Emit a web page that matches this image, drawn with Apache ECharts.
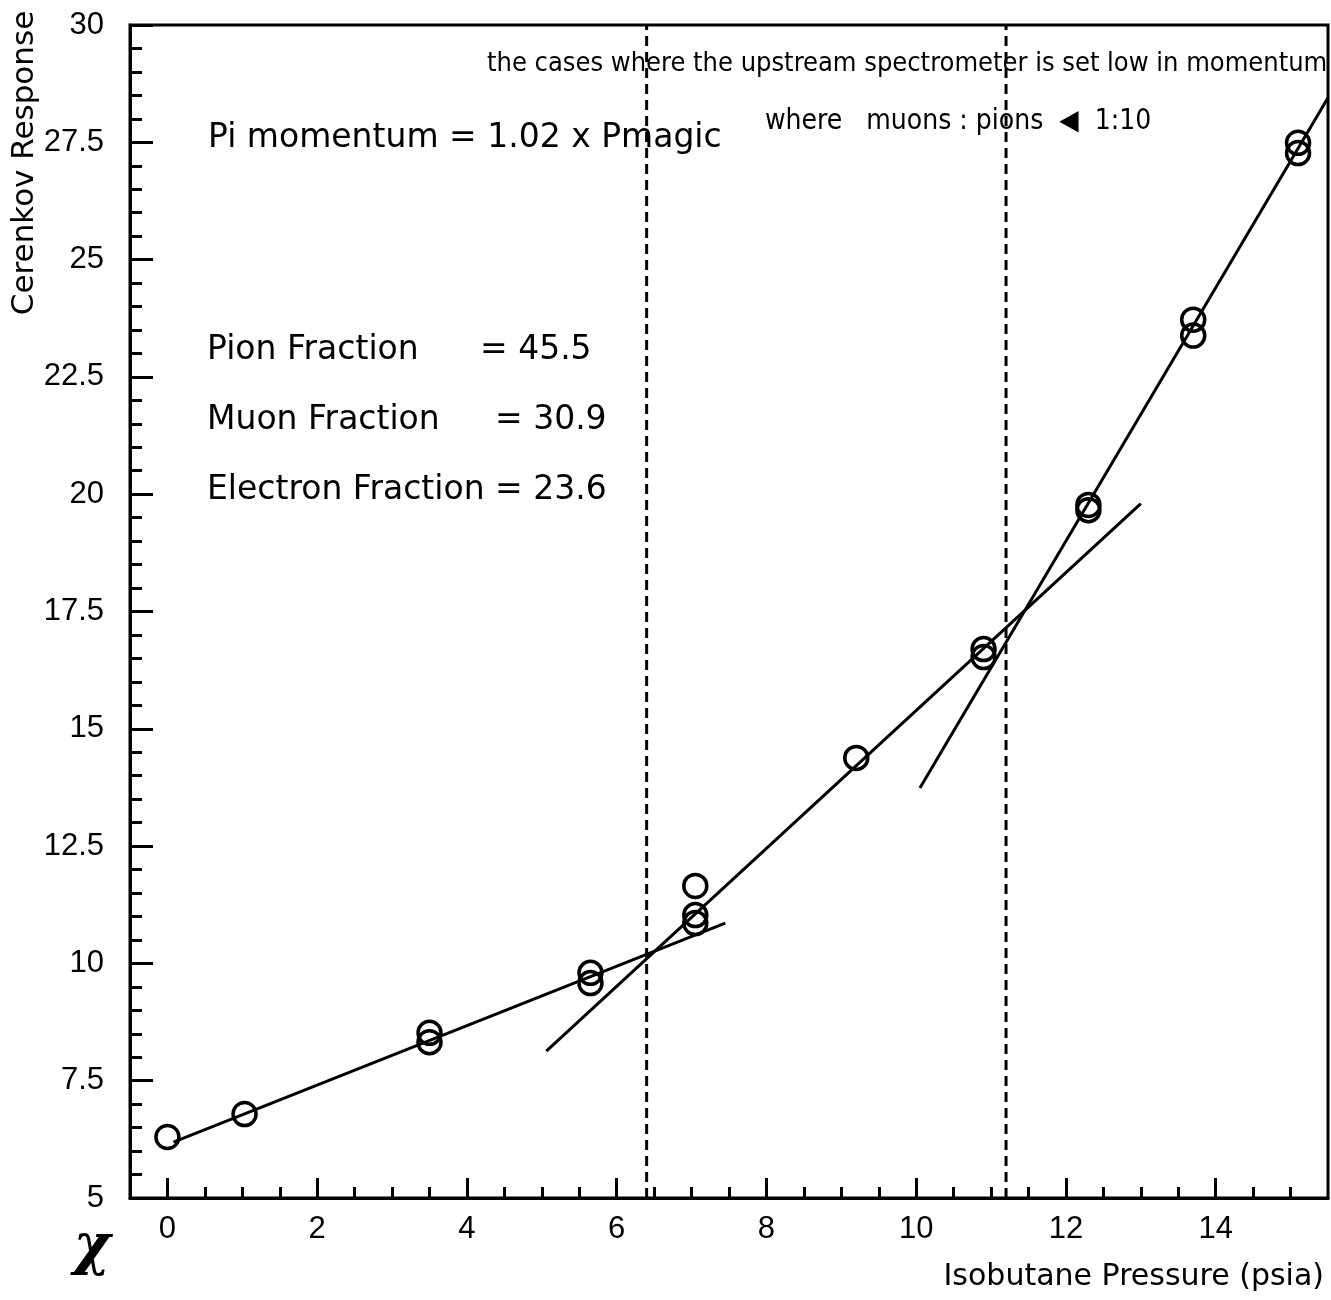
<!DOCTYPE html>
<html lang="en">
<head>
    <meta charset="UTF-8">
    <title>Cerenkov Response vs Isobutane Pressure</title>
    <script src="https://cdn.jsdelivr.net/npm/echarts@6/dist/echarts.min.js"></script>
</head>
<body style="margin:0;background:#fff">
<div id="main" style="width:1331px;height:1300px"></div>
<script>
    // measured points (psia, response)
    var pressure = [0, 1.03, 3.5, 3.5, 5.65, 5.65, 7.05, 7.05, 7.05, 9.2, 10.9, 10.9, 12.3, 12.3, 13.7, 13.7, 15.1, 15.1];
    var response = [6.3, 6.79, 8.52, 8.32, 9.8, 9.58, 11.65, 11.03, 10.86, 14.38, 16.7, 16.53, 19.77, 19.66, 23.72, 23.38, 27.49, 27.27];

    // straight line fits, endpoints
    var fitLowX = [0.08, 7.45];
    var fitLowY = [6.19, 10.86];
    var fitMidX = [5.06, 13.0];
    var fitMidY = [8.13, 19.8];
    var fitHighX = [10.05, 15.5];
    var fitHighY = [13.74, 28.45];

    // dashed cuts
    var cutX = [6.4, 11.2];
    var cutY = [5, 30];

    // ticks
    var xMajor = [0, 2, 4, 6, 8, 10, 12, 14];
    var xMinor = [0.5, 1, 1.5, 2.5, 3, 3.5, 4.5, 5, 5.5, 6.5, 7, 7.5, 8.5, 9, 9.5, 10.5, 11, 11.5, 12.5, 13, 13.5, 14.5, 15];

    var textFont = 'DejaVu Sans';
    var handFont = '"DejaVu Sans Condensed", sans-serif';

    function pairs(xs, ys) {
        var out = [];
        for (var i = 0; i < xs.length; i++) {
            out.push([xs[i], ys[i]]);
        }
        return out;
    }

    function fitLine(xs, ys) {
        return {
            type: 'line',
            data: pairs(xs, ys),
            showSymbol: false,
            lineStyle: {color: '#000', width: 3},
            z: 2
        };
    }

    function cutLine(x) {
        return {
            type: 'line',
            data: [[x, cutY[0]], [x, cutY[1]]],
            showSymbol: false,
            lineStyle: {color: '#000', width: 3, type: [10, 6]},
            z: 1
        };
    }

    function txt(x, y, s, size, family) {
        return {
            type: 'text',
            x: x,
            y: y,
            style: {
                text: s,
                font: size + 'px ' + family,
                fill: '#000',
                verticalAlign: 'middle'
            }
        };
    }

    var myChart = echarts.init(document.getElementById('main'));

    var option = {
        animation: false,
        backgroundColor: '#fff',
        grid: {
            left: 130, right: 3, top: 25, bottom: 102,
            show: true, borderColor: '#000', borderWidth: 3
        },
        xAxis: [
            {
                type: 'value', min: -0.5, max: 15.5,
                axisLine: {show: true, onZero: false, lineStyle: {color: '#000', width: 3}},
                axisTick: {show: true, inside: true, length: 20, customValues: xMajor,
                    lineStyle: {color: '#000', width: 3}},
                axisLabel: {show: true, customValues: xMajor, margin: 16, color: '#000',
                    fontSize: 31, fontFamily: 'Liberation Sans'},
                splitLine: {show: false},
                name: 'Isobutane Pressure (psia)',
                nameLocation: 'end',
                nameGap: 0,
                nameTextStyle: {color: '#000', fontSize: 30, fontFamily: textFont,
                    align: 'right', verticalAlign: 'top', padding: [64, 4, 0, 0]}
            },
            {
                type: 'value', min: -0.5, max: 15.5, position: 'bottom',
                axisLine: {show: false},
                axisTick: {show: true, inside: true, length: 11, customValues: xMinor,
                    lineStyle: {color: '#000', width: 3}},
                axisLabel: {show: false},
                splitLine: {show: false}
            }
        ],
        yAxis: {
            type: 'value', min: 5, max: 30, interval: 2.5,
            axisLine: {show: true, onZero: false, lineStyle: {color: '#000', width: 3}},
            axisTick: {show: true, inside: true, length: 23, lineStyle: {color: '#000', width: 3}},
            minorTick: {show: true, splitNumber: 5, length: 12, lineStyle: {color: '#000', width: 3}},
            axisLabel: {margin: 26, color: '#000', fontSize: 31, fontFamily: 'Liberation Sans'},
            splitLine: {show: false}
        },
        graphic: [
            {
                type: 'text', x: 25, y: 163, rotation: Math.PI / 2,
                style: {text: 'Cerenkov Response', font: '31px ' + textFont, fill: '#000',
                    align: 'center', verticalAlign: 'middle'}
            },
            txt(208, 138, 'Pi momentum = 1.02 x Pmagic', 33, textFont),
            txt(207, 350, 'Pion Fraction', 33, textFont),
            txt(480, 350, '= 45.5', 33, textFont),
            txt(207, 420, 'Muon Fraction', 33, textFont),
            txt(495, 420, '= 30.9', 33, textFont),
            txt(207, 490, 'Electron Fraction = 23.6', 33, textFont),
            txt(487, 64, 'the cases where the upstream spectrometer is set low in momentum', 27, handFont),
            txt(765, 122, 'where   muons : pions  \u25C0  1:10', 28, handFont),
            {
                type: 'text', x: 92, y: 1248,
                style: {text: '\u03C7', font: 'italic bold 56px DejaVu Serif', fill: '#000',
                    align: 'center', verticalAlign: 'middle'}
            }
        ],
        series: [
            cutLine(cutX[0]),
            cutLine(cutX[1]),
            fitLine(fitLowX, fitLowY),
            fitLine(fitMidX, fitMidY),
            fitLine(fitHighX, fitHighY),
            {
                type: 'scatter',
                data: pairs(pressure, response),
                symbol: 'circle',
                symbolSize: 23,
                itemStyle: {color: 'rgba(0,0,0,0)', borderColor: '#000', borderWidth: 3.5, opacity: 1},
                z: 3
            }
        ]
    };
    myChart.setOption(option);
</script>
</body>
</html>
